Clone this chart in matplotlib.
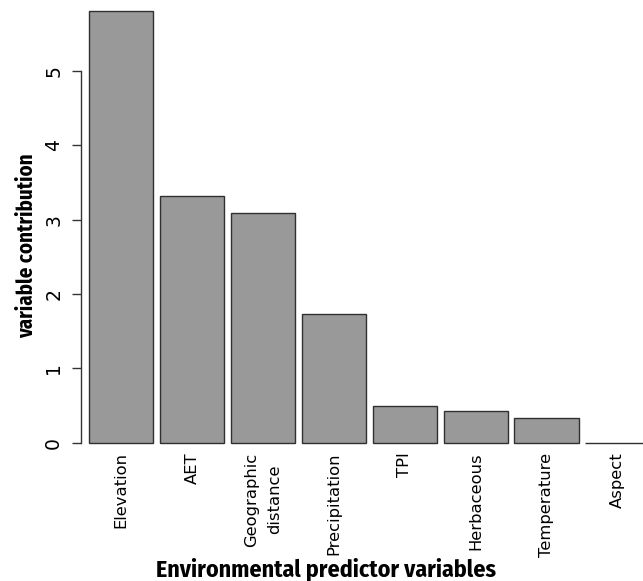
import matplotlib
matplotlib.use("Agg")
import matplotlib.pyplot as plt

categories = ["Elevation", "AET", "Geographic\ndistance", "Precipitation",
              "TPI", "Herbaceous", "Temperature", "Aspect"]
values = [5.81, 3.32, 3.09, 1.73, 0.49, 0.43, 0.33, 0.0]
yticks = [0, 1, 2, 3, 4, 5]

W, H = 643, 581
fig = plt.figure(figsize=(W / 100, H / 100), dpi=100)

x0_px = 82.6
px_per_x = 64.45
y0_px = 442.7
px_per_y = 74.35
xmax = 9.0
ymax = 5.85

ax = fig.add_axes([x0_px / W, (H - y0_px) / H,
                   xmax * px_per_x / W, ymax * px_per_y / H])

centers = [0.6 + i * 1.1 for i in range(len(categories))]
bars = ax.bar(centers, values, width=1.0, color="#999999", edgecolor="#303030",
              linewidth=1.0, zorder=2)
for b in bars:
    b.set_clip_on(False)

ax.set_xlim(0, xmax)
ax.set_ylim(0, ymax)

for s in ["top", "right", "bottom"]:
    ax.spines[s].set_visible(False)
ax.spines["left"].set_bounds(0, 5)
ax.spines["left"].set_position(("outward", 1.5))
ax.spines["left"].set_linewidth(1.0)
ax.spines["left"].set_color("#333333")

ax.set_yticks(yticks)
ax.set_yticklabels([str(t) for t in yticks], rotation=90, va="center",
                   fontsize=13.5, family="DejaVu Sans")
ax.tick_params(axis="y", length=6.5, width=1.0, pad=6, color="#333333")

ax.set_xticks(centers)
ax.set_xticklabels(categories, rotation=90, va="top", ha="center",
                   fontsize=11.8, family="DejaVu Sans", linespacing=1.7)
ax.tick_params(axis="x", length=0, pad=7)

fams = ["Fira Sans Condensed", "Roboto Condensed", "PT Sans Narrow",
        "Archivo Narrow", "Open Sans Condensed", "DejaVu Sans"]
fig.text(27 / W, 1 - 246 / H, "variable contribution", rotation=90,
         ha="center", va="center", family=fams, weight="bold", size=15)
fig.text(326 / W, 1 - 569 / H, "Environmental predictor variables",
         ha="center", va="center", family=fams, weight="bold", size=17.2)

fig.savefig("out.png", dpi=100)
